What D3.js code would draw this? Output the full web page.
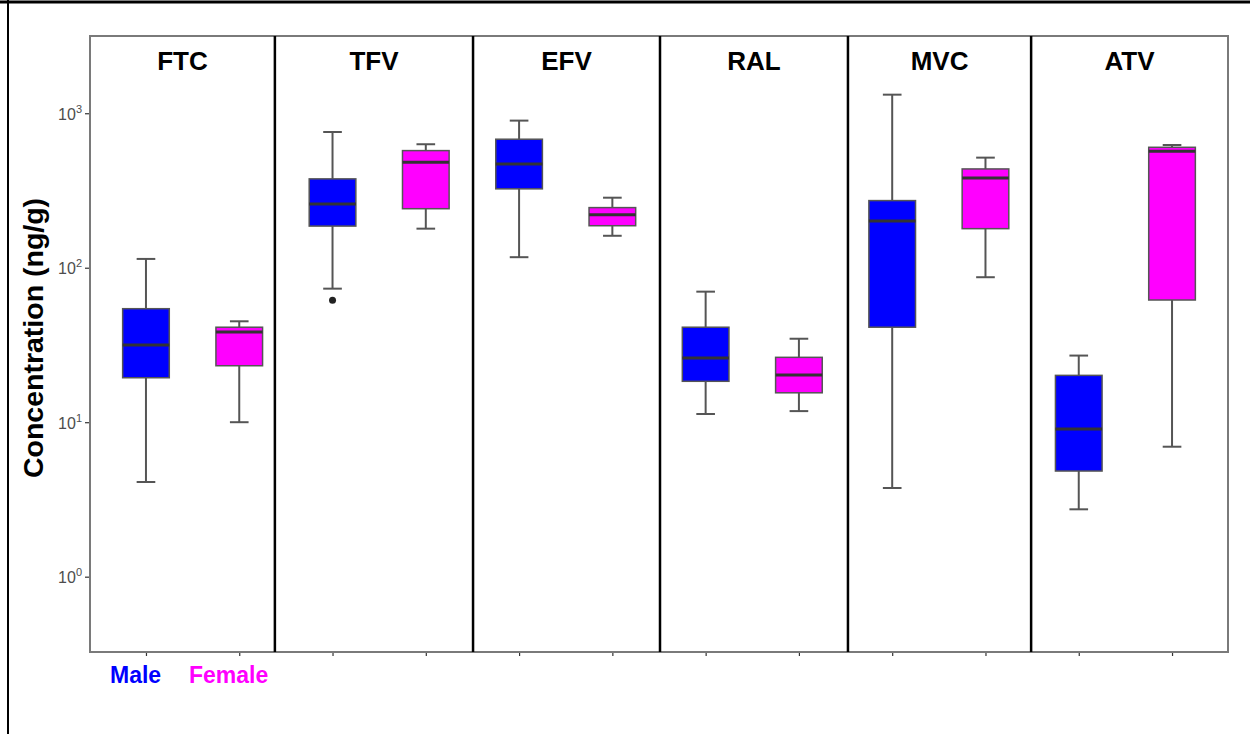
<!DOCTYPE html>
<html>
<head>
<meta charset="utf-8">
<script src="https://cdn.jsdelivr.net/npm/d3@7"></script>
<style>
  html, body { margin: 0; padding: 0; background: #fff; }
  svg { display: block; font-family: "Liberation Sans", Arial, sans-serif; }
</style>
</head>
<body>
<svg id="chart" width="1250" height="734"></svg>
<script>
// Drugs shown as facets, each with a male and a female box
const drugs = ["FTC", "TFV", "EFV", "RAL", "MVC", "ATV"];
const sexes = ["Male", "Female"];

// Box statistics per drug (ng/g): lower whisker, Q1, median, Q3, upper whisker
const maleLow    = [4.1,  73.2, 117, 11.3, 3.75, 2.73];
const maleQ1     = [19.4, 186,  324, 18.4, 41.2, 4.83];
const maleMedian = [31.6, 259,  470, 26.0, 201,  9.04];
const maleQ3     = [54.3, 376,  679, 41.2, 272,  20.1];
const maleHigh   = [114,  756,  896, 70.0, 1319, 27.0];

const femaleLow    = [10.0, 179, 161, 11.8, 86.8, 6.94];
const femaleQ1     = [23.2, 241, 187, 15.5, 179,  61.8];
const femaleMedian = [38.4, 482, 220, 20.2, 381,  568];
const femaleQ3     = [41.2, 573, 245, 26.3, 436,  602];
const femaleHigh   = [45.0, 630, 284, 34.7, 516,  623];

// Points beyond the whiskers
const outlierDrug  = ["TFV"];
const outlierSex   = ["Male"];
const outlierValue = [61.6];

// Y axis ticks (powers of ten)
const yTickExponents = [0, 1, 2, 3];

const sexColor = { Male: "#0000ff", Female: "#ff00ff" };

// ---- layout ----
const W = 1250, H = 734;
const plot = { left: 90, right: 1228, top: 36, bottom: 652 };
// fine offsets for the facet divider lines, relative to the midpoints between groups
const dividerShift = [-11, 0.6, 1, 2.4, -1];

const svg = d3.select("#chart");

// Build one record per box
const rows = [];
drugs.forEach((d, i) => {
  rows.push({ drug: d, sex: "Male", low: maleLow[i], q1: maleQ1[i], med: maleMedian[i], q3: maleQ3[i], high: maleHigh[i] });
  rows.push({ drug: d, sex: "Female", low: femaleLow[i], q1: femaleQ1[i], med: femaleMedian[i], q3: femaleQ3[i], high: femaleHigh[i] });
});
const key = r => r.drug + "|" + r.sex;

const x = d3.scalePoint()
  .domain(rows.map(key))
  .range([plot.left, plot.right])
  .padding(0.6);
const step = x.step();

const y = d3.scaleLog()
  .domain([Math.pow(10, -0.4875), Math.pow(10, 3.5)])
  .range([plot.bottom, plot.top]);

// outer frame lines
svg.append("line").attr("x1", 0).attr("x2", W).attr("y1", 2).attr("y2", 2)
  .attr("stroke", "#000").attr("stroke-width", 3);
svg.append("line").attr("x1", 8).attr("x2", 8).attr("y1", 0).attr("y2", H)
  .attr("stroke", "#000").attr("stroke-width", 2);

// panel background
svg.append("rect")
  .attr("x", plot.left).attr("y", plot.top)
  .attr("width", plot.right - plot.left).attr("height", plot.bottom - plot.top)
  .attr("fill", "#fff");

// y axis
const yAxis = svg.append("g")
  .attr("transform", `translate(${plot.left},0)`)
  .call(d3.axisLeft(y).tickValues(yTickExponents.map(e => Math.pow(10, e))).tickSize(5).tickFormat(""));
yAxis.select(".domain").remove();
yAxis.selectAll(".tick line").attr("stroke", "#333").attr("stroke-width", 1.2);
yAxis.selectAll(".tick").each(function (v, i) {
  const t = d3.select(this).append("text")
    .attr("x", -8).attr("y", 6)
    .attr("text-anchor", "end")
    .attr("fill", "#4d4d4d")
    .attr("font-size", 16);
  t.append("tspan").text("10");
  t.append("tspan").attr("font-size", 11).attr("dy", -7).text(String(yTickExponents[i]));
});

// x axis ticks (no labels)
const xAxis = svg.append("g")
  .attr("transform", `translate(0,${plot.bottom})`)
  .call(d3.axisBottom(x).tickSize(4).tickFormat(""));
xAxis.select(".domain").remove();
xAxis.selectAll(".tick line").attr("stroke", "#333").attr("stroke-width", 1.2);

// boxes
const boxW = step * 0.5;
const capW = step * 0.2;
const g = svg.append("g");
const box = g.selectAll("g.box").data(rows).join("g").attr("class", "box");

// whisker stems and caps
box.append("line")
  .attr("x1", d => x(key(d))).attr("x2", d => x(key(d)))
  .attr("y1", d => y(d.low)).attr("y2", d => y(d.high))
  .attr("stroke", "#555").attr("stroke-width", 2);
box.append("line")
  .attr("x1", d => x(key(d)) - capW / 2).attr("x2", d => x(key(d)) + capW / 2)
  .attr("y1", d => y(d.high)).attr("y2", d => y(d.high))
  .attr("stroke", "#555").attr("stroke-width", 2);
box.append("line")
  .attr("x1", d => x(key(d)) - capW / 2).attr("x2", d => x(key(d)) + capW / 2)
  .attr("y1", d => y(d.low)).attr("y2", d => y(d.low))
  .attr("stroke", "#555").attr("stroke-width", 2);

// interquartile box
box.append("rect")
  .attr("x", d => x(key(d)) - boxW / 2)
  .attr("y", d => y(d.q3))
  .attr("width", boxW)
  .attr("height", d => y(d.q1) - y(d.q3))
  .attr("fill", d => sexColor[d.sex])
  .attr("stroke", "#555").attr("stroke-width", 1.5);

// median
box.append("line")
  .attr("x1", d => x(key(d)) - boxW / 2).attr("x2", d => x(key(d)) + boxW / 2)
  .attr("y1", d => y(d.med)).attr("y2", d => y(d.med))
  .attr("stroke", "#333").attr("stroke-width", 3);

// outliers
g.selectAll("circle.outlier")
  .data(outlierValue.map((v, i) => ({ drug: outlierDrug[i], sex: outlierSex[i], value: v })))
  .join("circle").attr("class", "outlier")
  .attr("cx", d => x(d.drug + "|" + d.sex))
  .attr("cy", d => y(d.value))
  .attr("r", 3.5)
  .attr("fill", "#222");

// panel border
svg.append("rect")
  .attr("x", plot.left).attr("y", plot.top)
  .attr("width", plot.right - plot.left).attr("height", plot.bottom - plot.top)
  .attr("fill", "none").attr("stroke", "#7a7a7a").attr("stroke-width", 2);

// facet dividers and titles
const dividers = d3.range(1, drugs.length).map((i, j) =>
  (x(key(rows[2 * i - 1])) + x(key(rows[2 * i]))) / 2 + dividerShift[j]);
svg.append("g").selectAll("line").data(dividers).join("line")
  .attr("x1", d => d).attr("x2", d => d)
  .attr("y1", plot.top).attr("y2", plot.bottom)
  .attr("stroke", "#000").attr("stroke-width", 2.5);

const edges = [plot.left, ...dividers, plot.right];
svg.append("g").selectAll("text").data(drugs).join("text")
  .attr("x", (d, i) => (edges[i] + edges[i + 1]) / 2)
  .attr("y", 70)
  .attr("text-anchor", "middle")
  .attr("font-size", 26).attr("font-weight", "bold").attr("fill", "#000")
  .text(d => d);

// y axis title
svg.append("text")
  .attr("transform", `translate(43,338) rotate(-90)`)
  .attr("text-anchor", "middle")
  .attr("font-size", 28.5).attr("font-weight", "bold").attr("fill", "#000")
  .text("Concentration (ng/g)");

// legend labels
const legendX = [110, 189];
svg.append("g").selectAll("text").data(sexes).join("text")
  .attr("x", (d, i) => legendX[i])
  .attr("y", 683)
  .attr("font-size", 23).attr("font-weight", "bold")
  .attr("fill", d => sexColor[d])
  .text(d => d);
</script>
</body>
</html>
